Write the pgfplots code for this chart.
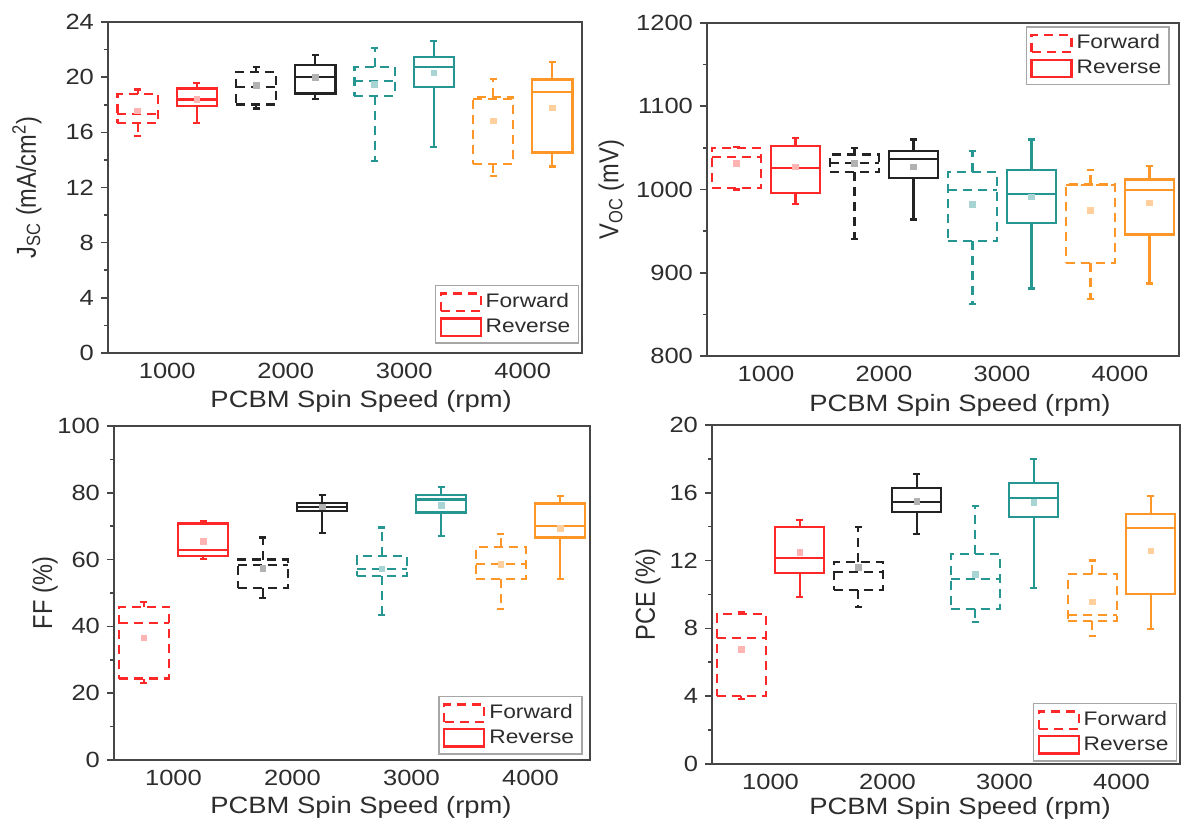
\documentclass[border=0pt]{standalone}
\usepackage{fontspec}
\setmainfont{Liberation Sans}[FakeStretch=1.16]
\newfontfamily\plainfont{Liberation Sans}
\usepackage{graphicx}
\usepackage{pgfplots}
\pgfplotsset{compat=1.18}
\definecolor{cR}{RGB}{255,40,40}
\definecolor{cK}{RGB}{35,35,35}
\definecolor{cT}{RGB}{38,150,146}
\definecolor{cO}{RGB}{255,150,40}
\definecolor{txt}{RGB}{45,45,45}
\definecolor{frame}{RGB}{70,70,70}
\tikzset{fwd/.style={dash pattern=on 4.5pt off 3pt}}
\pgfplotsset{bxl/.style={line width=1.1pt, forget plot, mark=none, line join=miter}}
\def\hw{0.21}\def\cw{0.03}
\newcommand{\ylab}[1]{\scalebox{1}[1.16]{\plainfont\fontsize{11.8}{14}\selectfont #1}}
% #1 style, #2 position, #3 lower whisker, #4 lower quartile, #5 median, #6 upper quartile, #7 upper whisker, #8 mean, #9 mean colour
\newcommand{\bx}[9]{%
  \addplot[#1, bxl, x filter/.expression={x*\hw+#2}] coordinates {(-1,#4) (1,#4) (1,#6) (-1,#6)} -- cycle;
  \addplot[#1, bxl, x filter/.expression={x*\hw+#2}] coordinates {(-1,#5) (1,#5)};
  \addplot[#1, bxl, x filter/.expression={x+#2}] coordinates {(0,#6) (0,#7)};
  \addplot[#1, bxl, x filter/.expression={x+#2}] coordinates {(0,#4) (0,#3)};
  \addplot[#1, bxl, solid, x filter/.expression={x*\cw+#2}] coordinates {(-1,#7) (1,#7)};
  \addplot[#1, bxl, solid, x filter/.expression={x*\cw+#2}] coordinates {(-1,#3) (1,#3)};
  \addplot[only marks, mark=square*, mark size=1.4pt, color=#9, forget plot] coordinates {(#2,#8)};
}
\pgfplotsset{
  panel/.style={
    scale only axis,
    xmin=0.5, xmax=4.5,
    xtick={1,2,3,4}, xticklabels={1000,2000,3000,4000},
    xtick style={draw=none},
    xticklabel style={yshift=2pt},
    ytick pos=left,
    tick align=outside,
    minor y tick num=1,
    major tick length=3.5pt,
    minor tick length=2pt,
    y tick style={line width=0.8pt, color=frame},
    axis line style={line width=1pt, color=frame},
    tick label style={font=\fontsize{11}{13}\selectfont, color=txt},
    /pgf/number format/assume math mode=true,
    /pgf/number format/1000 sep={},
    label style={font=\fontsize{11.8}{14}\selectfont, color=txt},
    xlabel={PCBM Spin Speed (rpm)},
    legend style={draw=gray!70, line width=0.8pt, fill=white, font=\fontsize{9.8}{12}\selectfont,
      text=txt, inner sep=2pt, row sep=0pt, cells={anchor=west}},
    legend image code/.code={\draw[##1] (0pt,-4.3pt) rectangle (20pt,4.3pt);},
  }
}
\begin{document}
\begin{tikzpicture}
\path[use as bounding box] (0,0) rectangle (590.5pt,411.5pt);

% ---------------- Jsc ----------------
\def\hw{0.17}
\begin{axis}[panel, at={(54pt,235pt)}, anchor=south west, width=237pt, height=165.5pt,
  ymin=0, ymax=24, ytick={0,4,...,24},
  ylabel={\ylab{J\textsubscript{SC} (mA/cm\textsuperscript{2})}},
  ylabel style={at={(axis description cs:-0.171,0.5)}, anchor=center},
  xlabel style={at={(axis description cs:0.534,-0.147)}, anchor=center},
  legend style={at={(axis description cs:0.994,0.027)}, anchor=south east}]
\addlegendimage{cR, fwd, line width=1.1pt}\addlegendentry{Forward}
\addlegendimage{cR, line width=1.1pt}\addlegendentry{Reverse}
\bx{cR,fwd}{0.75}{15.74}{16.66}{17.30}{18.80}{19.10}{17.55}{cR!35}
\bx{cR}{1.25}{16.65}{17.90}{18.38}{19.18}{19.58}{18.40}{cR!35}
\bx{cK,fwd}{1.75}{17.73}{18.02}{19.30}{20.38}{20.74}{19.40}{black!30}
\bx{cK}{2.25}{18.43}{18.82}{20.00}{20.90}{21.63}{20.00}{black!30}
\bx{cT,fwd}{2.75}{13.93}{18.62}{19.70}{20.74}{22.10}{19.47}{cT!40}
\bx{cT}{3.25}{14.96}{19.27}{20.71}{21.44}{22.64}{20.30}{cT!40}
\bx{cO,fwd}{3.75}{12.85}{13.69}{18.40}{18.55}{19.87}{16.82}{cO!45}
\bx{cO}{4.25}{13.52}{14.53}{18.93}{19.83}{21.10}{17.78}{cO!45}
\end{axis}

% ---------------- Voc ----------------
\def\hw{0.21}
\begin{axis}[panel, at={(353.5pt,233.5pt)}, anchor=south west, width=236pt, height=166.5pt,
  ymin=800, ymax=1200, ytick={800,900,...,1200},
  ylabel={\ylab{V\textsubscript{OC} (mV)}},
  ylabel style={at={(axis description cs:-0.203,0.5)}, anchor=center},
  xlabel style={at={(axis description cs:0.536,-0.148)}, anchor=center},
  legend style={at={(axis description cs:0.981,0.991)}, anchor=north east}]
\addlegendimage{cR, fwd, line width=1.1pt}\addlegendentry{Forward}
\addlegendimage{cR, line width=1.1pt}\addlegendentry{Reverse}
\bx{cR,fwd}{0.75}{1000}{1001.8}{1039}{1050.3}{1051}{1031}{cR!35}
\bx{cR}{1.25}{983}{996}{1026}{1052}{1062}{1027}{cR!35}
\bx{cK,fwd}{1.75}{941}{1021}{1032}{1042}{1050}{1031}{black!30}
\bx{cK}{2.25}{964}{1014}{1037}{1046}{1060}{1027}{black!30}
\bx{cT,fwd}{2.75}{862}{938}{999}{1021}{1046}{982}{cT!40}
\bx{cT}{3.25}{881}{960}{995}{1023}{1060}{991}{cT!40}
\bx{cO,fwd}{3.75}{868}{912}{1005}{1006}{1023}{975}{cO!45}
\bx{cO}{4.25}{887}{946}{999}{1012}{1028}{984}{cO!45}
\end{axis}

% ---------------- FF ----------------
\begin{axis}[panel, at={(57pt,31.5pt)}, anchor=south west, width=238pt, height=167pt,
  ymin=0, ymax=100, ytick={0,20,...,100},
  ylabel={\ylab{FF (\%)}},
  ylabel style={at={(axis description cs:-0.145,0.5)}, anchor=center},
  xlabel style={at={(axis description cs:0.519,-0.143)}, anchor=center},
  legend style={at={(axis description cs:0.985,0.015)}, anchor=south east}]
\addlegendimage{cR, fwd, line width=1.1pt}\addlegendentry{Forward}
\addlegendimage{cR, line width=1.1pt}\addlegendentry{Reverse}
\bx{cR,fwd}{0.75}{23.1}{24.4}{40.9}{45.9}{47.2}{36.6}{cR!35}
\bx{cR}{1.25}{60.1}{61.1}{62.8}{70.8}{71.6}{65.5}{cR!35}
\bx{cK,fwd}{1.75}{48.6}{51.4}{58.5}{60.0}{66.6}{57.3}{black!30}
\bx{cK}{2.25}{68.0}{74.6}{75.8}{77.0}{79.3}{75.8}{black!30}
\bx{cT,fwd}{2.75}{43.4}{55.0}{57.2}{61.1}{69.6}{57.2}{cT!40}
\bx{cT}{3.25}{67.1}{74.1}{78.0}{79.3}{81.8}{76.3}{cT!40}
\bx{cO,fwd}{3.75}{45.1}{54.1}{58.6}{63.8}{67.6}{58.6}{cO!45}
\bx{cO}{4.25}{54.1}{66.6}{70.0}{76.8}{79.1}{69.3}{cO!45}
\end{axis}

% ---------------- PCE ----------------
\begin{axis}[panel, at={(356pt,29.5pt)}, anchor=south west, width=234pt, height=169.5pt,
  ymin=0, ymax=20, ytick={0,4,...,20},
  ylabel={\ylab{PCE (\%)}},
  ylabel style={at={(axis description cs:-0.137,0.5)}, anchor=center},
  xlabel style={at={(axis description cs:0.53,-0.131)}, anchor=center},
  legend style={at={(axis description cs:0.994,0.006)}, anchor=south east}]
\addlegendimage{cR, fwd, line width=1.1pt}\addlegendentry{Forward}
\addlegendimage{cR, line width=1.1pt}\addlegendentry{Reverse}
\bx{cR,fwd}{0.75}{3.85}{4.01}{7.42}{8.85}{8.99}{6.77}{cR!35}
\bx{cR}{1.25}{9.87}{11.25}{12.17}{14.0}{14.4}{12.49}{cR!35}
\bx{cK,fwd}{1.75}{9.28}{10.27}{11.35}{11.9}{14.0}{11.6}{black!30}
\bx{cK}{2.25}{13.57}{14.89}{15.44}{16.27}{17.09}{15.5}{black!30}
\bx{cT,fwd}{2.75}{8.38}{9.16}{10.9}{12.39}{15.22}{11.2}{cT!40}
\bx{cT}{3.25}{10.37}{14.59}{15.68}{16.56}{17.99}{15.45}{cT!40}
\bx{cO,fwd}{3.75}{7.55}{8.45}{8.8}{11.19}{12.0}{9.57}{cO!45}
\bx{cO}{4.25}{7.96}{10.01}{13.9}{14.73}{15.83}{12.58}{cO!45}
\end{axis}
\end{tikzpicture}
\end{document}
